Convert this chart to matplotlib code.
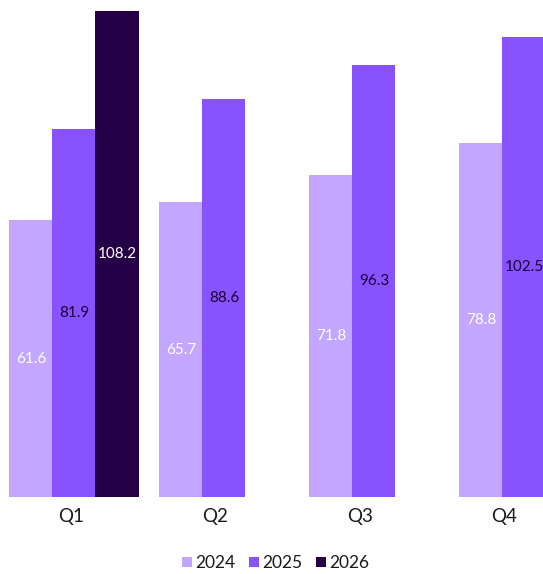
import matplotlib
matplotlib.use("Agg")
import matplotlib.pyplot as plt
import numpy as np

categories = ["Q1", "Q2", "Q3", "Q4"]
series_names = ["2024", "2025", "2026"]
values_2024 = [61.6, 65.7, 71.8, 78.8]
values_2025 = [81.9, 88.6, 96.3, 102.5]
values_2026 = [108.2, None, None, None]

colors = ["#C2A6FF", "#8952FF", "#260047"]
label_colors = ["white", "#1A0033", "white"]

plt.rcParams['font.family'] = ['Lato', 'DejaVu Sans']

fig = plt.figure(figsize=(5.43, 5.74), dpi=100)
ax = fig.add_axes([0, 0.134, 1, 0.866])

bar_w = 0.287
x = np.arange(len(categories))
all_series = [values_2024, values_2025, values_2026]
for i, (name, vals) in enumerate(zip(series_names, all_series)):
    xs = [xi + (i - 1) * bar_w for xi, v in zip(x, vals) if v is not None]
    vs = [v for v in vals if v is not None]
    bars = ax.bar(xs, vs, width=bar_w, color=colors[i], label=name, linewidth=0)
    for b, v in zip(bars, vs):
        ax.text(b.get_x() + b.get_width() / 2, v / 2, f"{v:.1f}",
                ha="center", va="center", color=label_colors[i], fontsize=11)

ax.set_xlim(-0.493, 3.127)
ax.set_ylim(0, 110.7)
ax.set_xticks(x * 0.963 - 0.02)
ax.set_xticklabels(categories, fontsize=13.5, color="#1a1a1a")
ax.tick_params(axis="x", length=0, pad=8)
ax.set_yticks([])
for s in ax.spines.values():
    s.set_visible(False)

fig.legend(loc="lower center", bbox_to_anchor=(0.508, -0.022), ncol=3, frameon=False,
           fontsize=12.5, handlelength=0.55, handleheight=0.55, handletextpad=0.2,
           columnspacing=0.8, labelcolor="#1a1a1a")

fig.savefig("out.png", dpi=100)
